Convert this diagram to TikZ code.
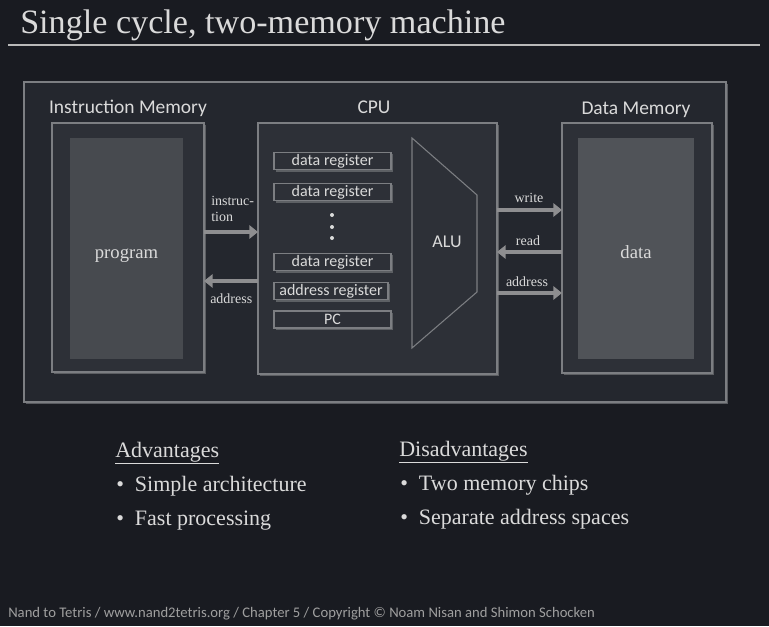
\documentclass[tikz,border=0pt]{standalone}
\usepackage{fontspec}
\setmainfont{Liberation Serif}
\newfontfamily\labfont{Carlito}
\usetikzlibrary{arrows.meta,shadows}
\definecolor{bgc}{HTML}{191B21}
\definecolor{panelc}{HTML}{24272E}
\definecolor{boxc}{HTML}{2D3037}
\definecolor{edgec}{HTML}{7C7E82}
\definecolor{innerA}{HTML}{474A4F}
\definecolor{innerB}{HTML}{505358}
\definecolor{txtc}{HTML}{DADADA}
\definecolor{arrc}{HTML}{8E8E90}
\definecolor{shc}{HTML}{6A6C70}
\tikzset{
  shad/.style={drop shadow={shadow xshift=1.6pt,shadow yshift=-1.6pt,fill=shc,opacity=0.8}},
  panelbox/.style={draw=edgec,line width=0.9pt,fill=panelc,inner sep=0,outer sep=0,shad},
  membox/.style={draw=edgec,line width=0.9pt,fill=boxc,inner sep=0,outer sep=0,shad},
  innerbox/.style={fill=#1,inner sep=0,outer sep=0},
  bigtxt/.style={text=txtc,font=\fontsize{14}{16}\selectfont,inner sep=0},
  regbox/.style={draw=edgec,line width=0.8pt,fill=boxc,inner sep=0,outer sep=0,shad,
    minimum height=13.2pt,text=txtc,font=\labfont\fontsize{12}{13}\selectfont},
  title/.style={text=txtc,font=\labfont\fontsize{14.6}{16}\selectfont,anchor=base},
  arr/.style={draw=arrc,line width=2.8pt,-{Triangle[length=6.5pt,width=10pt]}},
  albl/.style={text=txtc,font=\fontsize{10.5}{12}\selectfont,inner sep=0},
  bul/.style={text=txtc,font=\fontsize{16.5}{19}\selectfont,anchor=base west,inner sep=0},
}
\begin{document}
\begin{tikzpicture}[x=0.75pt,y=-0.75pt]
\fill[bgc] (0,0) rectangle (769,626);
\useasboundingbox (0,0) rectangle (769,626);
% title
\node[anchor=base west,inner sep=0,text=txtc,font=\fontsize{25.6}{30}\selectfont] (ttl) at (20,33) {Single cycle, two-memory machine};
\coordinate (hl1) at (8,45);
\coordinate (hl2) at (760,45);
\draw[draw=txtc!85!black,line width=1.5pt] (hl1) -- (hl2);
% panel
\node[panelbox,minimum width=526.5pt,minimum height=240pt] (panel) at (375,242) {};
% instruction memory
\node[membox,minimum width=114pt,minimum height=186.75pt] (im) at (128,247.5) {};
\node[innerbox=innerA,minimum width=84.75pt,minimum height=165.75pt] (prog) at (126.5,248.5) {};
\node[bigtxt,anchor=base] (progt) at (126.5,258) {program};
\node[title] (imt) at (128,113) {Instruction Memory};
% CPU
\node[membox,minimum width=179.25pt,minimum height=188.25pt] (cpu) at (377.5,248.5) {};
\node[title] (cput) at (374,113) {CPU};
% data memory
\node[membox,minimum width=112.5pt,minimum height=187.5pt] (dm) at (637,248) {};
\node[innerbox=innerB,minimum width=87pt,minimum height=165.75pt] (dat) at (636,248.5) {};
\node[bigtxt,anchor=base] (datt) at (636,258) {data};
\node[title] (dmt) at (636,114) {Data Memory};
% registers
\node[regbox,minimum width=87.75pt] (r1) at (332.5,161) {data register};
\node[regbox,minimum width=87.75pt] (r2) at (332.5,192) {data register};
\node[regbox,minimum width=87.75pt] (r3) at (332.5,262) {data register};
\node[regbox,minimum width=85.5pt] (ra) at (331,291) {address register};
\node[regbox,minimum width=87.75pt,minimum height=12.75pt] (pc) at (332.5,319.5) {PC};
\foreach \yy in {215,227,238} \fill[txtc] (332,\yy) circle (1.5pt);
% ALU
\coordinate (al1) at (412,138);
\coordinate (al2) at (477,195);
\coordinate (al3) at (477,292);
\coordinate (al4) at (412,348);
\draw[draw=edgec,line width=0.8pt,fill=boxc] (al1) -- (al2) -- (al3) -- (al4) -- cycle;
\node[text=txtc,font=\labfont\fontsize{13.5}{15}\selectfont] (alu) at (447,242) {ALU};
% arrows left
\coordinate (yi) at (0,232);
\coordinate (ya) at (0,281);
\draw[arr] (im.east |- yi) -- (cpu.west |- yi);
\draw[arr] (cpu.west |- ya) -- (im.east |- ya);
\node[albl,anchor=base west] (li1) at (211,205) {instruc-};
\node[albl,anchor=base west] (li2) at (211,221) {tion};
\node[albl,anchor=base west] (la) at (210,303) {address};
% arrows right
\coordinate (yw) at (0,210);
\coordinate (yr) at (0,252);
\coordinate (yd) at (0,293);
\draw[arr] (cpu.east |- yw) -- (dm.west |- yw);
\draw[arr] (dm.west |- yr) -- (cpu.east |- yr);
\draw[arr] (cpu.east |- yd) -- (dm.west |- yd);
\node[albl,anchor=base] (lw) at (529,202) {write};
\node[albl,anchor=base] (lr) at (528,245) {read};
\node[albl,anchor=base] (ld) at (527,286) {address};
% lists
\node[bul] (adv) at (115,457) {\underline{Advantages}};
\node[bul] (a1) at (116,491) {\textbullet\ \ Simple architecture};
\node[bul] (a2) at (116,525) {\textbullet\ \ Fast processing};
\node[bul] (dis) at (399,456) {\underline{Disadvantages}};
\node[bul] (d1) at (400,490) {\textbullet\ \ Two memory chips};
\node[bul] (d2) at (400,524) {\textbullet\ \ Separate address spaces};
% footer
\node[anchor=base west,inner sep=0,text=gray!75,font=\labfont\fontsize{11}{13}\selectfont] (foot) at (8,617) {Nand to Tetris / www.nand2tetris.org / Chapter 5 / Copyright \textcopyright{} Noam Nisan and Shimon Schocken};
\end{tikzpicture}
\end{document}
